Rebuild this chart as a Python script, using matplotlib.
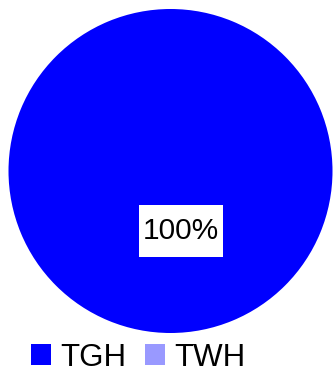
import matplotlib
matplotlib.use("Agg")
import matplotlib.pyplot as plt
from matplotlib.path import Path
from matplotlib.patches import Patch

plt.rcParams['font.family'] = ['Liberation Sans', 'DejaVu Sans']

categories = ["TGH", "TWH"]
values = [100, 0]
colors = ["#0000FF", "#9999FF"]

W, H = 333, 373
fig = plt.figure(figsize=(W / 100, H / 100), dpi=100)
ax = fig.add_axes([8.5 / W, 40 / H, 324 / W, 324 / H])

def fmt(p):
    return f"{p:.0f}%" if p > 0 else ""

wedges, texts, autotexts = ax.pie(
    values, colors=colors, startangle=100, autopct=fmt, pctdistance=0.376,
    wedgeprops=dict(linewidth=0), textprops=dict(fontsize=21.5, color="black"),
    radius=1.0,
)
ax.set_xlim(-1, 1)
ax.set_ylim(-1, 1)
ax.set_aspect('auto')
ax.axis('off')


def label_box(x0, y0, width, height, mutation_size):
    cx = x0 + width / 2
    cy = y0 + height / 2
    hw = width / 2 + 4
    hh = 26
    verts = [(cx - hw, cy - hh), (cx + hw, cy - hh), (cx + hw, cy + hh),
             (cx - hw, cy + hh), (cx - hw, cy - hh)]
    return Path(verts, closed=True)

for t in autotexts:
    if t.get_text():
        t.set_bbox(dict(boxstyle=label_box, facecolor="white", edgecolor="none"))

handles = [Patch(facecolor=c, edgecolor="none") for c in colors]
fig.legend(handles, categories, loc="lower left", bbox_to_anchor=(31 / W, 0.5 / H),
           ncol=2, frameon=False, fontsize=22.5, handlelength=0.64, handleheight=0.64,
           handletextpad=0.3, columnspacing=0.6, borderpad=0, borderaxespad=0)

fig.savefig("out.png", dpi=100)
